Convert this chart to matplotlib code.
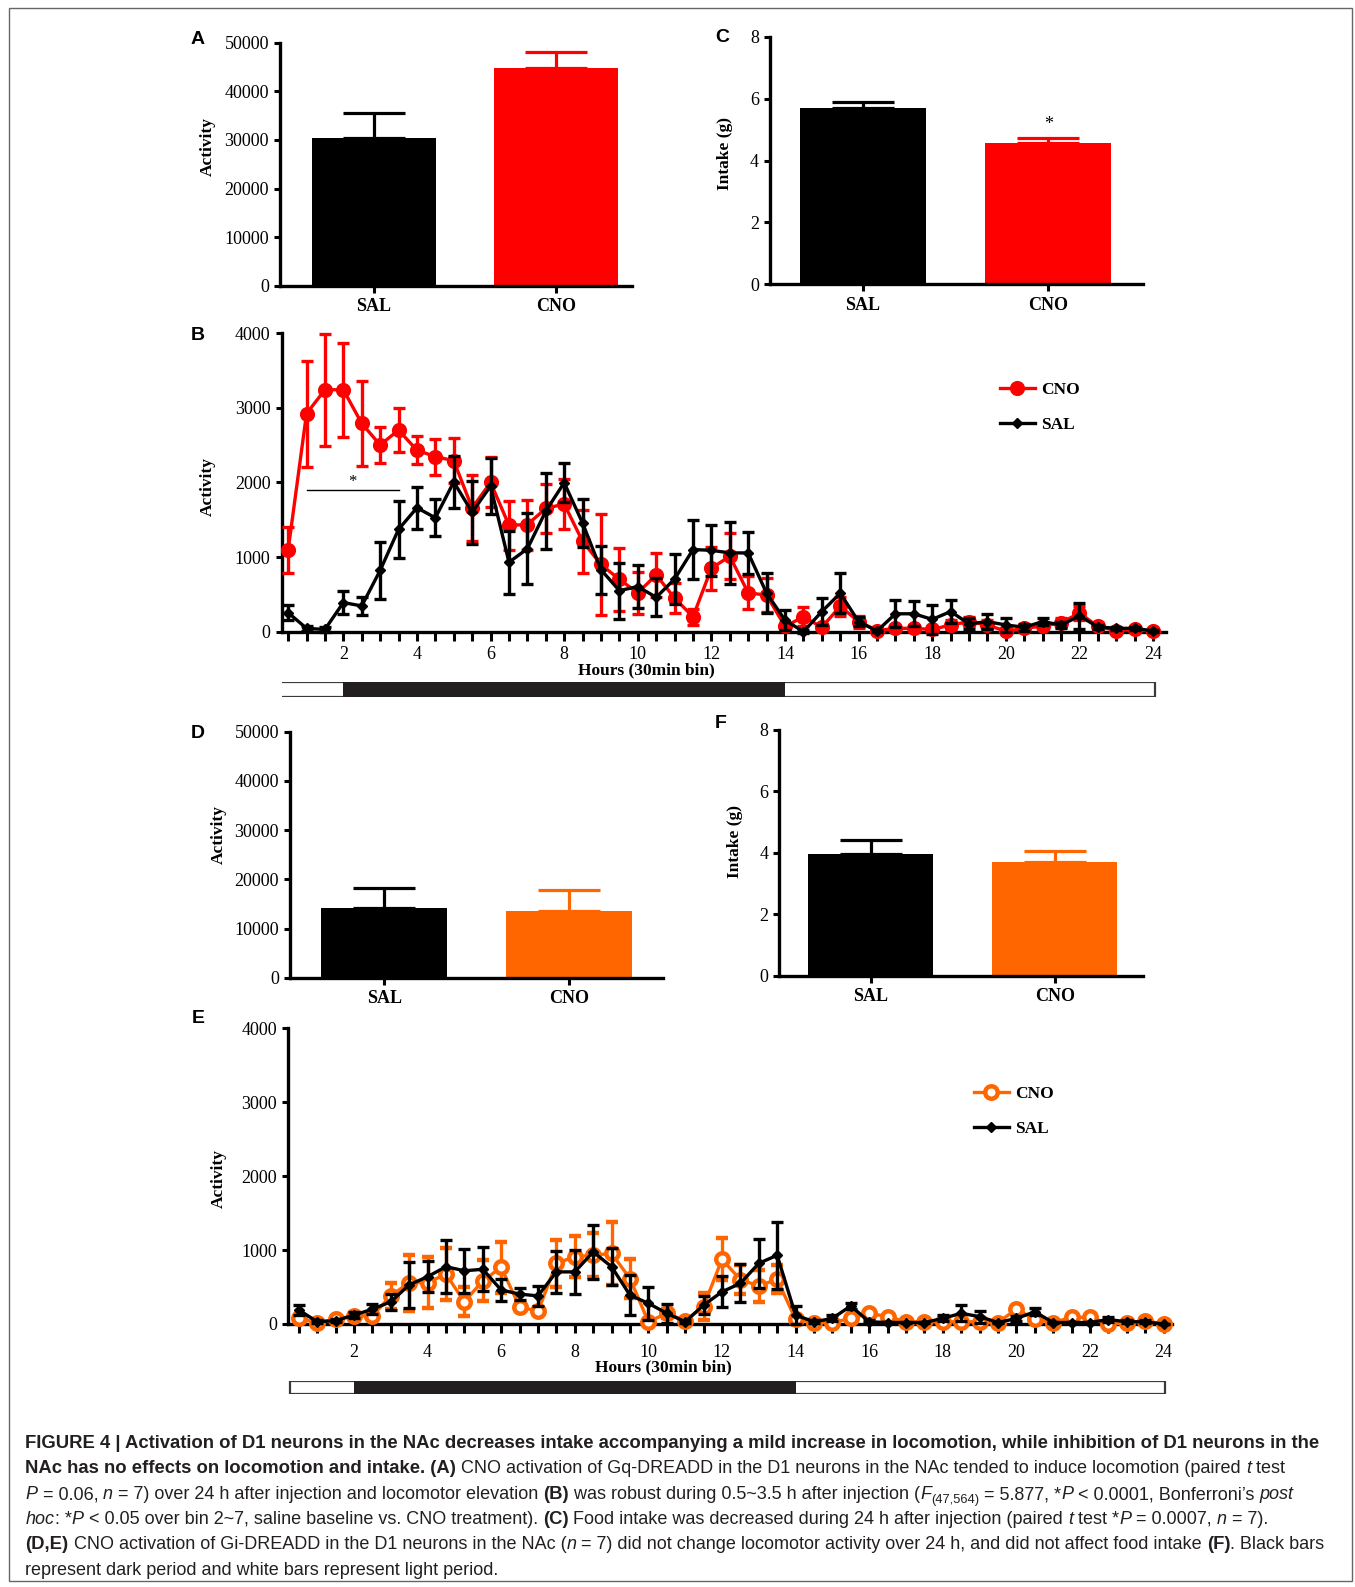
import matplotlib
matplotlib.use('Agg')
import matplotlib.pyplot as plt
import numpy as np
from matplotlib.lines import Line2D
from matplotlib.patches import Rectangle
from matplotlib.font_manager import FontProperties

plt.rcParams['font.family'] = ['Liberation Serif', 'DejaVu Serif']

# ---- bar panels (A, C, D, F) ----
groups = ['SAL', 'CNO']
act_gq = [30300, 44850]          # A
act_gq_err = [5170, 3300]
intake_gq = [5.69, 4.56]         # C
intake_gq_err = [0.21, 0.16]
act_gi = [14100, 13620]          # D
act_gi_err = [4190, 4210]
intake_gi = [3.95, 3.71]         # F
intake_gi_err = [0.47, 0.36]

# ---- 24 h time course, 30 min bins (B, E) ----
hours = np.arange(0.5, 24.01, 0.5)

b_cno = [1090, 2920, 3240, 3240, 2790, 2500, 2700, 2430, 2345, 2290, 1655, 2000,
         1425, 1435, 1650, 1710, 1210, 900, 700, 520, 760, 450, 200, 850,
         1010, 520, 490, 70, 200, 60, 340, 135, 15, 45, 45, 30,
         90, 135, 90, 5, 45, 76, 120, 250, 70, 15, 30, 5]
b_cno_err = [310, 710, 750, 630, 570, 235, 300, 185, 240, 300, 440, 335,
             325, 335, 325, 340, 425, 680, 425, 280, 290, 200, 110, 285,
             310, 220, 225, 40, 130, 40, 130, 80, 20, 30, 30, 30,
             60, 60, 60, 20, 30, 40, 60, 90, 40, 20, 20, 10]
b_sal = [255, 45, 30, 390, 345, 820, 1370, 1660, 1525, 2005, 1600, 1950,
         930, 1110, 1615, 1995, 1455, 830, 550, 605, 460, 705, 1100, 1090,
         1055, 1055, 515, 155, 0, 270, 515, 135, 10, 240, 240, 165,
         270, 105, 135, 90, 60, 135, 90, 210, 65, 45, 45, 10]
b_sal_err = [100, 30, 30, 150, 115, 380, 380, 280, 250, 350, 420, 380,
             420, 475, 505, 260, 320, 320, 375, 290, 255, 330, 390, 345,
             410, 280, 270, 135, 20, 180, 270, 65, 10, 180, 165, 195,
             155, 75, 100, 90, 45, 50, 40, 180, 30, 20, 20, 10]

e_cno = [75, 20, 65, 110, 110, 380, 560, 560, 675, 300, 585, 765,
         235, 170, 820, 910, 930, 955, 615, 30, 145, 45, 235, 875,
         600, 515, 605, 65, 20, 20, 75, 145, 100, 30, 30, 30,
         30, 30, 20, 200, 65, 20, 90, 90, 5, 10, 45, 0]
e_cno_err = [40, 10, 20, 30, 30, 180, 380, 350, 350, 195, 280, 350,
             60, 40, 315, 280, 300, 430, 270, 20, 60, 20, 180, 285,
             200, 220, 190, 30, 10, 10, 30, 30, 20, 20, 20, 20,
             20, 20, 10, 40, 20, 10, 20, 20, 10, 10, 10, 0]
e_sal = [190, 30, 45, 120, 200, 300, 530, 640, 775, 720, 740, 460,
         405, 380, 705, 705, 975, 775, 390, 280, 145, 30, 255, 435,
         550, 820, 930, 120, 30, 75, 245, 30, 20, 20, 20, 75,
         145, 100, 20, 75, 165, 20, 20, 20, 60, 30, 30, 0]
e_sal_err = [70, 20, 20, 40, 70, 110, 315, 210, 360, 300, 300, 155,
             80, 140, 285, 300, 360, 250, 270, 225, 125, 20, 120, 210,
             255, 330, 450, 120, 20, 40, 45, 20, 10, 10, 10, 40,
             110, 80, 10, 30, 50, 10, 10, 10, 30, 20, 20, 0]

# light/dark cycle (hours after injection)
cycle_start, dark_on, dark_off, cycle_end = 0.25, 2, 14, 24.05

RED = '#FF0000'
ORANGE = '#FF6600'
INK = '#231F20'

W, H = 1355, 1587
fig = plt.figure(figsize=(W / 100, H / 100), dpi=100)


def px_axes(x0, x1, ytop, ybot):
    return fig.add_axes([x0 / W, 1 - ybot / H, (x1 - x0) / W, (ybot - ytop) / H])


def ftext(x, y, s, **kw):
    return fig.text(x / W, 1 - y / H, s, **kw)


def style_axes(ax, xlen=5, ylen=4, xpad=4):
    for s in ['top', 'right']:
        ax.spines[s].set_visible(False)
    for s in ['left', 'bottom']:
        ax.spines[s].set_linewidth(2.4)
    ax.tick_params(axis='y', direction='out', width=2.2, length=ylen, labelsize=13, pad=4)
    ax.tick_params(axis='x', direction='out', width=2.2, length=xlen, labelsize=13, pad=xpad)


def bar_panel(ax, vals, errs, colors, xlim, ymax, yticks):
    x = np.arange(len(groups))
    for xi, v, e, c in zip(x, vals, errs, colors):
        ax.bar(xi, v, width=0.68, color=c, zorder=2)
        ax.errorbar(xi, v, yerr=[[0], [e]], fmt='none', ecolor=c, elinewidth=2.3,
                    capsize=22, capthick=2.3, zorder=3)
    ax.set_xlim(*xlim)
    ax.set_ylim(0, ymax)
    ax.set_yticks(yticks)
    ax.set_xticks(x)
    ax.set_xticklabels(groups, fontweight='bold')
    style_axes(ax)


def line_panel(ax, cno, cno_err, sal, sal_err, ccol, cface, cms, cmew, xlim, xpad):
    cont = ax.errorbar(hours, cno, yerr=cno_err, color=ccol, marker='o', ms=cms,
                       mfc=cface, mec=ccol, mew=cmew, lw=2.4, elinewidth=2.4,
                       capsize=4.5, capthick=2.4, zorder=3)
    cont2 = ax.errorbar(hours, sal, yerr=sal_err, color='black', marker='D', ms=5,
                        lw=2.4, elinewidth=2.4, capsize=4.5, capthick=2.4, zorder=4)
    for c in (cont, cont2):
        for art in c.get_children():
            art.set_clip_on(False)
    ax.set_xlim(*xlim)
    ax.set_ylim(0, 4000)
    ax.set_yticks([0, 1000, 2000, 3000, 4000])
    ax.set_xticks(hours)
    ax.set_xticklabels([str(int(h)) if h % 2 == 0 else '' for h in hours])
    style_axes(ax, xlen=6.5, xpad=xpad)
    handles = [Line2D([], [], color=ccol, marker='o', ms=cms, mfc=cface, mec=ccol, mew=cmew, lw=2.4),
               Line2D([], [], color='black', marker='D', ms=5, lw=2.4)]
    return handles


def light_dark(ax_ref, ytop, ybot):
    pos = ax_ref.get_position()
    bx = fig.add_axes([pos.x0, 1 - ybot / H, pos.width, (ybot - ytop) / H])
    bx.set_xlim(ax_ref.get_xlim())
    bx.set_ylim(0, 1)
    bx.axis('off')
    bx.add_patch(Rectangle((cycle_start, 0), cycle_end - cycle_start, 1,
                           facecolor='white', edgecolor='#3A3A3A', lw=1.6))
    bx.add_patch(Rectangle((dark_on, 0), dark_off - dark_on, 1,
                           facecolor=INK, edgecolor='none'))


leg_kw = dict(loc='upper left', bbox_transform=fig.transFigure, frameon=False,
              borderpad=0, borderaxespad=0, handlelength=2.0, handletextpad=0.35,
              labelspacing=1.1, prop={'weight': 'bold', 'size': 12.5})

# A
axA = px_axes(280, 632, 42.7, 285.7)
bar_panel(axA, act_gq, act_gq_err, ['black', RED], (-0.515, 1.415), 50000,
          [0, 10000, 20000, 30000, 40000, 50000])
# C
axC = px_axes(770, 1142.7, 36.7, 284.3)
bar_panel(axC, intake_gq, intake_gq_err, ['black', RED], (-0.502, 1.509), 8, [0, 2, 4, 6, 8])
axC.text(1, intake_gq[1] + intake_gq_err[1] + 0.45, '*', ha='center', va='center', fontsize=13)
# D
axD = px_axes(290, 663, 731.7, 977.7)
bar_panel(axD, act_gi, act_gi_err, ['black', ORANGE], (-0.51, 1.51), 50000,
          [0, 10000, 20000, 30000, 40000, 50000])
# F
axF = px_axes(779.3, 1143, 730, 975.7)
bar_panel(axF, intake_gi, intake_gi_err, ['black', ORANGE], (-0.498, 1.48), 8, [0, 2, 4, 6, 8])

# B
axB = px_axes(281.7, 1166, 333, 631.7)
hB = line_panel(axB, b_cno, b_cno_err, b_sal, b_sal_err, RED, RED, 8.5, 2.4, (0.326, 24.35), 4)
axB.plot([1.0, 3.5], [1897, 1897], color='black', lw=1.0)
axB.text(2.25, 2000, '*', ha='center', va='center', fontsize=12)
axB.legend(hB, ['CNO', 'SAL'], bbox_to_anchor=(1000 / W, 1 - 382 / H), **leg_kw)
light_dark(axB, 682.3, 696.7)

# E
axE = px_axes(288.3, 1172, 1028.3, 1324)
hE = line_panel(axE, e_cno, e_cno_err, e_sal, e_sal_err, ORANGE, 'white', 9.0, 3.2, (0.215, 24.23), 8)
axE.legend(hE, ['CNO', 'SAL'], bbox_to_anchor=(974 / W, 1 - 1086 / H), **leg_kw)
light_dark(axE, 1381, 1394)

# axis titles
lab = dict(fontweight='bold', fontsize=12.5, rotation=90, ha='center', va='center')
ftext(208, 146, 'Activity', **lab)
ftext(725, 153, 'Intake (g)', **lab)
ftext(208, 486, 'Activity', **lab)
ftext(219, 835, 'Activity', **lab)
ftext(735, 841, 'Intake (g)', **lab)
ftext(219, 1179, 'Activity', **lab)
ftext(646, 670, 'Hours (30min bin)', fontweight='bold', fontsize=12.5, ha='center', va='center')
ftext(663, 1367, 'Hours (30min bin)', fontweight='bold', fontsize=12.5, ha='center', va='center')

# panel letters
let = dict(family='Liberation Sans', fontweight='bold', fontsize=14, ha='center', va='center')
for s, x, y in [('A', 198, 40), ('C', 722, 38), ('B', 198, 335),
                ('D', 198, 733), ('F', 721, 723), ('E', 198, 1019)]:
    ftext(x, y, s, **let)

# outer frame
fig.patches.append(Rectangle((9 / W, 1 - 1581 / H), 1343 / W, 1573 / H, transform=fig.transFigure,
                             facecolor='none', edgecolor='#666666', lw=1.0))

# caption
caption = [
    [('FIGURE 4 | Activation of D1 neurons in the NAc decreases intake accompanying a mild increase in locomotion, while inhibition of D1 neurons in the', 'b')],
    [('NAc has no effects on locomotion and intake. (A)', 'b'),
     (' CNO activation of Gq-DREADD in the D1 neurons in the NAc tended to induce locomotion (paired ', 'r'),
     ('t', 'i'), (' test', 'r')],
    [('P', 'i'), (' = 0.06, ', 'r'), ('n', 'i'), (' = 7) over 24 h after injection and locomotor elevation ', 'r'),
     ('(B)', 'b'), (' was robust during 0.5~3.5 h after injection (', 'r'), ('F', 'i'), ('(47,564)', 'sub'),
     (' = 5.877, *', 'r'), ('P', 'i'), (' < 0.0001, Bonferroni\u2019s ', 'r'), ('post', 'i')],
    [('hoc', 'i'), (': *', 'r'), ('P', 'i'), (' < 0.05 over bin 2~7, saline baseline vs. CNO treatment). ', 'r'),
     ('(C)', 'b'), (' Food intake was decreased during 24 h after injection (paired ', 'r'), ('t', 'i'),
     (' test *', 'r'), ('P', 'i'), (' = 0.0007, ', 'r'), ('n', 'i'), (' = 7).', 'r')],
    [('(D,E)', 'b'), (' CNO activation of Gi-DREADD in the D1 neurons in the NAc (', 'r'), ('n', 'i'),
     (' = 7) did not change locomotor activity over 24 h, and did not affect food intake ', 'r'),
     ('(F)', 'b'), ('. Black bars', 'r')],
    [('represent dark period and white bars represent light period.', 'r')],
]
baselines = [1448, 1473, 1499, 1524, 1549, 1575]

renderer = fig.canvas.get_renderer()


def cap_fp(style, size):
    fp = FontProperties(family='Liberation Sans', size=size)
    if style == 'b':
        fp.set_weight('bold')
    else:
        # body text is set a touch tighter than the bold lead-in
        fp.set_size(size * 0.978)
    if style == 'i':
        fp.set_style('italic')
    if style == 'sub':
        fp.set_size(size * 0.70)
    return fp


def seg_width(s, fp):
    w1 = renderer.get_text_width_height_descent('|' + s + '|', fp, ismath=False)[0]
    w0 = renderer.get_text_width_height_descent('||', fp, ismath=False)[0]
    return w1 - w0


ref = 11.0
w_first = seg_width(caption[0][0][0], cap_fp('b', ref))
cap_size = ref * 1300 / w_first

for line, base in zip(caption, baselines):
    x = 25.5
    for s, st in line:
        fp = cap_fp(st, cap_size)
        dy = 4 if st == 'sub' else 0
        ftext(x, base + dy, s, fontproperties=fp, color=INK, va='baseline', ha='left')
        x += seg_width(s, fp)

fig.savefig('out.png', dpi=100)
